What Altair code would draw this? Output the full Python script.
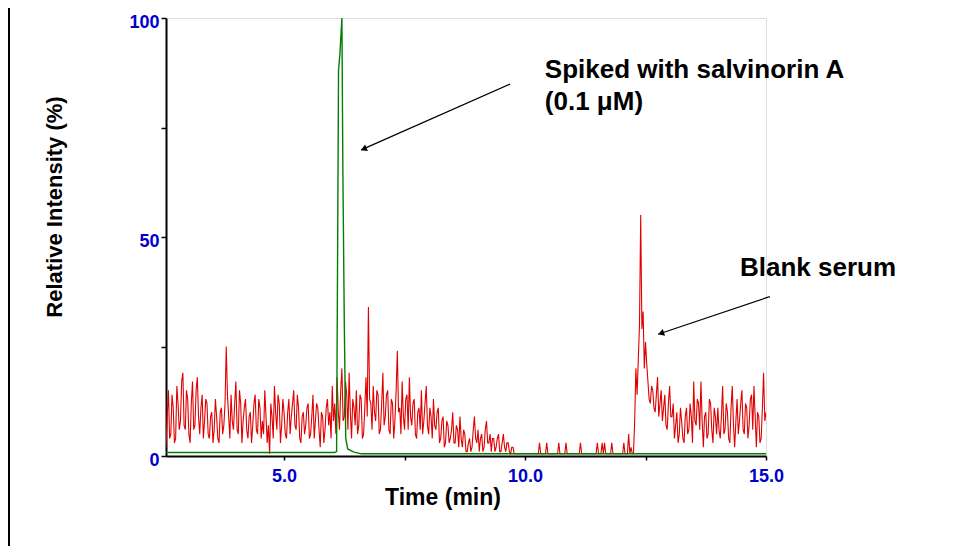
import altair as alt
import pandas as pd

FONT = "Liberation Sans, Arial, sans-serif"
BLUE = "#0000CC"

# sampling grid of the blank-serum trace (min)
t_start = 2.55
t_step = 0.025

# Blank serum (red) relative intensity, one value per sample
blank_serum = [
    2, 9, 15, 4, 5, 14, 11, 3, 4, 16, 12, 6, 8, 17, 19, 7, 6, 15, 13, 5,
    3, 12, 17, 6, 7, 15, 18, 9, 5, 11, 14, 4, 8, 13, 12, 5, 4, 9, 10, 3,
    6, 13, 9, 4, 3, 10, 11, 5, 7, 12, 25, 14, 9, 4, 14, 8, 6, 12, 17, 6,
    5, 15, 12, 3, 8, 11, 13, 6, 4, 9, 10, 3, 7, 12, 14, 6, 5, 13, 11, 4,
    8, 5, 15, 9, 3, 7, 0.5, 12, 9, 4, 16, 10, 6, 14, 12, 3, 7, 13, 10, 5,
    4, 10, 13, 5, 9, 12, 15, 7, 6, 14, 11, 4, 3, 9, 10, 5, 7, 11, 12, 4,
    5, 9, 14, 4, 8, 12, 11, 6, 2, 10, 9, 3, 6, 11, 13, 7, 10, 4, 16, 8,
    12, 5, 18, 10, 6, 15, 20, 8, 9, 17, 14, 6, 19, 10, 4, 13, 11, 7, 15, 5,
    7, 14, 13, 4, 5, 11, 18, 9, 34, 13, 12, 6, 16, 10, 8, 15, 14, 5, 6, 12,
    19, 7, 9, 14, 15, 6, 5, 13, 12, 4, 8, 15, 24, 10, 11, 5, 17, 9, 6, 13,
    14, 6, 18, 9, 7, 12, 13, 5, 4, 10, 11, 6, 15, 5, 8, 12, 16, 7, 5, 11,
    9, 4, 13, 7, 6, 10, 11, 3, 4, 8, 9, 2, 3, 8, 7, 3, 4, 6, 10, 3,
    3, 7, 6, 2, 9, 4, 2, 6, 5, 1, 1, 3, 4, 1, 2, 6, 9, 4, 3, 6,
    1, 4, 5, 1, 2, 6, 8, 3, 3, 5, 1, 4, 4, 1, 2, 4, 5, 1, 1, 3,
    5, 2, 1, 3, 3, 1, 0.5, 2, 2, 0.5, 0.5, 0.5, 0.5, 0.5, 0.5, 0.5, 0.5, 0.5, 0.5, 0.5,
    0.5, 0.5, 0.5, 0.5, 0.5, 0.5, 0.5, 0.5, 0.5, 0.5, 3, 0.5, 0.5, 0.5, 0.5, 0.5, 3, 0.5, 0.5, 0.5,
    0.5, 0.5, 0.5, 0.5, 0.5, 0.5, 3, 0.5, 0.5, 0.5, 0.5, 0.5, 3, 0.5, 0.5, 0.5, 0.5, 0.5, 0.5, 0.5,
    0.5, 0.5, 0.5, 0.5, 3, 0.5, 0.5, 0.5, 0.5, 0.5, 0.5, 0.5, 0.5, 0.5, 0.5, 0.5, 0.5, 0.5, 3, 0.5,
    0.5, 0.5, 3, 0.5, 3, 0.5, 0.5, 0.5, 0.5, 0.5, 3, 0.5, 0.5, 0.5, 0.5, 0.5, 0.5, 0.5, 0.5, 0.5,
    3, 0.5, 0.5, 0.5, 5, 0.5, 2, 0.5, 0.5, 8, 20, 14, 22, 30, 55, 29, 33, 20, 26, 21,
    17, 13, 12, 16, 15, 11, 10, 14, 18, 9, 12, 15, 8, 11, 14, 7, 6, 12, 16, 9,
    9, 12, 4, 7, 10, 3, 5, 11, 8, 4, 3, 9, 11, 5, 6, 12, 9, 3, 17, 8,
    7, 13, 12, 6, 17, 8, 2, 9, 10, 4, 5, 13, 12, 6, 3, 11, 9, 5, 11, 6,
    4, 9, 16, 5, 6, 12, 10, 4, 3, 11, 16, 7, 2, 8, 13, 5, 8, 12, 15, 6,
    5, 12, 11, 4, 7, 13, 14, 6, 16, 9, 2, 10, 9, 3, 4, 11, 19, 8, 10,
]
blank_time = [round(t_start + t_step * i, 4) for i in range(len(blank_serum))]

# Spiked with salvinorin A (green)
spiked_time = [2.55, 4.0, 6.05, 6.09, 6.13, 6.16, 6.20, 6.22, 6.25, 6.28, 6.32, 6.45, 6.6, 15.0]
spiked_intensity = [0.8, 0.8, 0.8, 1.0, 88, 92, 100, 65, 30, 4, 1.6, 0.9, 0.5, 0.5]

# annotations
label_text = ["Spiked with salvinorin A", "(0.1 \u03bcM)", "Blank serum"]
label_time = [10.41, 10.41, 14.46]
label_int = [86.2, 79.0, 41.1]

arrow_t1 = [9.69, 15.08]
arrow_i1 = [84.9, 36.4]
arrow_t2 = [6.60, 12.76]
arrow_i2 = [69.9, 27.8]
head_time = [6.652, 12.822]
head_int = [70.1, 28.0]
head_angle = [246, 251]

red_df = pd.DataFrame({"time": blank_time, "intensity": blank_serum})
green_df = pd.DataFrame({"time": spiked_time, "intensity": spiked_intensity})
text_df = pd.DataFrame({"time": label_time, "intensity": label_int, "label": label_text})
arrow_df = pd.DataFrame({"time": arrow_t1, "intensity": arrow_i1, "t2": arrow_t2, "i2": arrow_i2})
head_df = pd.DataFrame({"time": head_time, "intensity": head_int, "angle": head_angle})

xscale = alt.Scale(domain=[2.55, 15.0], nice=False, zero=False)
yscale = alt.Scale(domain=[0, 100], nice=False, zero=False)

xaxis = alt.Axis(
    values=[5, 7.5, 10, 12.5, 15],
    labelExpr="datum.value % 5 == 0 ? format(datum.value, '.1f') : ''",
    grid=False, domainColor="black", domainWidth=2, tickColor="black",
    tickSize=4, tickWidth=1.5, labelColor=BLUE, labelFont=FONT,
    labelFontSize=18, labelFontWeight="bold", labelPadding=7,
    labelFlush=False, labelOverlap=False,
    title="Time (min)", titleFont=FONT, titleFontSize=23, titleFontWeight="bold",
    titleColor="black", titleX=276.5, titleY=48, titleAlign="center",
    titleBaseline="alphabetic",
)
yaxis = alt.Axis(
    values=[0, 25, 50, 75, 100],
    labelExpr="datum.value % 50 == 0 ? datum.label : ''",
    grid=False, domainColor="black", domainWidth=2, tickColor="black",
    tickSize=5, tickWidth=1.5, labelColor=BLUE, labelFont=FONT,
    labelFontSize=18, labelFontWeight="bold", labelPadding=2,
    labelOffset=4, labelOverlap=False, labelFlush=False,
    title="Relative Intensity (%)", titleFont=FONT, titleFontSize=22,
    titleFontWeight="bold", titleColor="black", titleX=-105, titleY=188.5,
    titleAngle=270, titleAlign="center", titleBaseline="alphabetic",
)

X = alt.X("time:Q", scale=xscale, axis=xaxis)
Y = alt.Y("intensity:Q", scale=yscale, axis=yaxis)

red = alt.Chart(red_df).mark_line(color="#E00000", strokeWidth=1.1, clip=True).encode(x=X, y=Y)
green = alt.Chart(green_df).mark_line(color="#008000", strokeWidth=1.4, clip=True).encode(x=X, y=Y)

arrows = alt.Chart(arrow_df).mark_rule(color="black", strokeWidth=1.2).encode(
    x=X, y=Y, x2="t2:Q", y2="i2:Q"
)
heads = alt.Chart(head_df).mark_point(
    shape="triangle-up", filled=True, color="black", size=50, opacity=1
).encode(x=X, y=Y, angle=alt.Angle("angle:Q", scale=None))

texts = alt.Chart(text_df).mark_text(
    align="left", baseline="alphabetic", font=FONT, fontSize=26,
    fontWeight="bold", color="black"
).encode(x=X, y=Y, text="label:N")

border = alt.Chart(red_df).mark_rule(color="black", strokeWidth=3).encode(
    x=alt.value(-158), y=alt.value(-20), y2=alt.value(560)
)

chart = alt.layer(red, green, arrows, heads, texts, border).properties(
    width=600, height=438,
    autosize=alt.AutoSizeParams(type="none"),
    padding={"left": 158, "top": 10, "right": 179, "bottom": 90},
).configure_view(stroke=None).configure(background="white")

chart.save("out.html", embed_options={"renderer": "svg", "actions": False})
